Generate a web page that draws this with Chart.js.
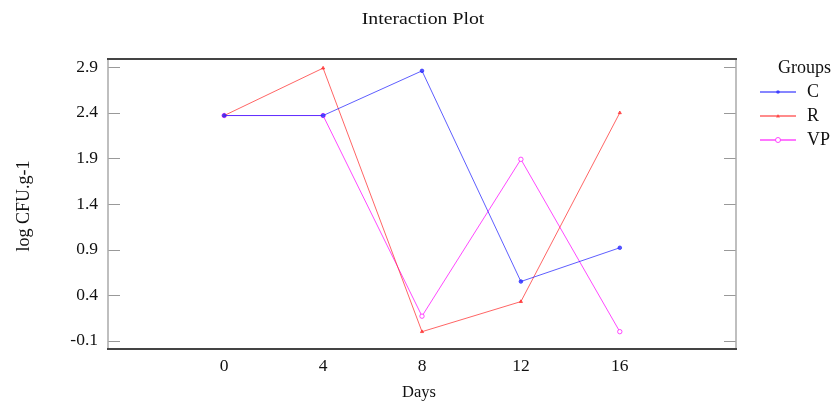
<!DOCTYPE html>
<html>
<head>
<meta charset="utf-8">
<script src="https://cdn.jsdelivr.net/npm/chart.js@4"></script>
<style>
  html, body { margin: 0; padding: 0; background: #fff; }
  #wrap { width: 834px; height: 403px; }
</style>
</head>
<body>
<div id="wrap"><canvas id="chart" width="834" height="403"></canvas></div>
<script>
// data
const days = [0, 4, 8, 12, 16];
const groups = ['C', 'R', 'VP'];
const valuesC = [2.37, 2.37, 2.86, 0.55, 0.92];
const valuesR = [2.37, 2.89, 0.00, 0.33, 2.40];
const valuesVP = [2.37, 2.37, 0.17, 1.89, 0.00];
const yTicks = [-0.1, 0.4, 0.9, 1.4, 1.9, 2.4, 2.9];

const FONT = '"Liberation Serif", "Times New Roman", serif';

function pts(vals) {
    return days.map((d, i) => ({x: d, y: vals[i]}));
}

const colors = ['rgba(40,40,255,0.75)', 'rgba(255,50,50,0.75)', 'rgba(255,40,255,0.85)'];
const markers = ['circle', 'triangle', 'circle'];

// frame, inner ticks, title, axis titles and legend
const decorations = {
    id: 'decorations',
    afterDraw(chart) {
        const ctx = chart.ctx;
        const a = chart.chartArea;
        const y = chart.scales.y;
        ctx.save();
        // tick marks inside on left and right
        ctx.strokeStyle = '#999';
        ctx.lineWidth = 1;
        yTicks.forEach(t => {
            const py = Math.round(y.getPixelForValue(t)) + 0.5;
            ctx.beginPath();
            ctx.moveTo(a.left, py); ctx.lineTo(a.left + 12, py);
            ctx.moveTo(a.right - 12, py); ctx.lineTo(a.right, py);
            ctx.stroke();
        });
        // frame
        ctx.strokeStyle = '#aaa';
        ctx.lineWidth = 1.5;
        ctx.beginPath();
        ctx.moveTo(a.left, a.top); ctx.lineTo(a.left, a.bottom);
        ctx.moveTo(a.right, a.top); ctx.lineTo(a.right, a.bottom);
        ctx.stroke();
        ctx.strokeStyle = '#444';
        ctx.lineWidth = 2;
        ctx.beginPath();
        ctx.moveTo(a.left - 1, a.top); ctx.lineTo(a.right + 1, a.top);
        ctx.moveTo(a.left - 1, a.bottom); ctx.lineTo(a.right + 1, a.bottom);
        ctx.stroke();

        ctx.fillStyle = '#111';
        ctx.textAlign = 'center';
        ctx.textBaseline = 'middle';
        // title looks horizontally stretched in the reference
        ctx.save();
        ctx.font = '16.5px ' + FONT;
        ctx.translate(423, 20);
        ctx.scale(1.2, 1);
        ctx.fillText('Interaction Plot', 0, 0);
        ctx.restore();
        ctx.font = '16.5px ' + FONT;
        ctx.fillText('Days', 419, 393);
        ctx.save();
        ctx.font = '18px ' + FONT;
        ctx.translate(24, 206);
        ctx.rotate(-Math.PI / 2);
        ctx.fillText('log CFU.g-1', 0, 0);
        ctx.restore();

        // legend
        ctx.font = '18px ' + FONT;
        ctx.textAlign = 'left';
        ctx.fillText('Groups', 778, 68);
        const ly = [92, 116, 140];
        chart.data.datasets.forEach((ds, i) => {
            ctx.strokeStyle = ds.borderColor;
            ctx.lineWidth = 1.5;
            ctx.beginPath();
            ctx.moveTo(760, ly[i]); ctx.lineTo(796, ly[i]);
            ctx.stroke();
            ctx.fillStyle = ds.borderColor;
            ctx.beginPath();
            if (i === 1) {
                ctx.moveTo(778, ly[i] - 2); ctx.lineTo(780, ly[i] + 1.5); ctx.lineTo(776, ly[i] + 1.5); ctx.closePath(); ctx.fill();
            } else if (i === 0) {
                ctx.arc(778, ly[i], 1.8, 0, Math.PI * 2); ctx.fill();
            } else {
                ctx.fillStyle = '#fff';
                ctx.arc(778, ly[i], 2.5, 0, Math.PI * 2); ctx.fill(); ctx.lineWidth = 1; ctx.stroke();
            }
            ctx.fillStyle = '#111';
            ctx.fillText(ds.label, 807, ly[i]);
        });
        ctx.restore();
    }
};

new Chart(document.getElementById('chart'), {
    type: 'line',
    data: {
        datasets: [
            {label: groups[0], data: pts(valuesC)},
            {label: groups[1], data: pts(valuesR)},
            {label: groups[2], data: pts(valuesVP)}
        ].map((ds, i) => Object.assign(ds, {
            borderColor: colors[i],
            backgroundColor: i === 2 ? '#fff' : colors[i],
            borderWidth: 1,
            pointStyle: markers[i],
            pointRadius: i === 2 ? 2.2 : 1.8,
            pointBorderWidth: 1,
            tension: 0,
            fill: false
        }))
    },
    options: {
        responsive: false,
        animation: false,
        layout: {padding: {left: 0, right: 98, top: 59, bottom: 0}},
        plugins: {legend: {display: false}, title: {display: false}, tooltip: {enabled: false}},
        scales: {
            x: {
                type: 'linear',
                min: -4.7,
                max: 20.7,
                afterBuildTicks: s => { s.ticks = days.map(v => ({value: v})); },
                afterFit: s => { s.height = 54; },
                grid: {display: false, drawTicks: false},
                border: {display: false},
                ticks: {color: '#111', font: {family: FONT, size: 17.5}, padding: 7, maxRotation: 0}
            },
            y: {
                min: -0.19,
                max: 2.99,
                afterBuildTicks: s => { s.ticks = yTicks.map(v => ({value: v})); },
                afterFit: s => { s.width = 108; },
                grid: {display: false, drawTicks: false},
                border: {display: false},
                ticks: {color: '#111', font: {family: FONT, size: 17.5}, padding: 10,
                    callback: v => v.toFixed(1)}
            }
        }
    },
    plugins: [decorations]
});
</script>
</body>
</html>
